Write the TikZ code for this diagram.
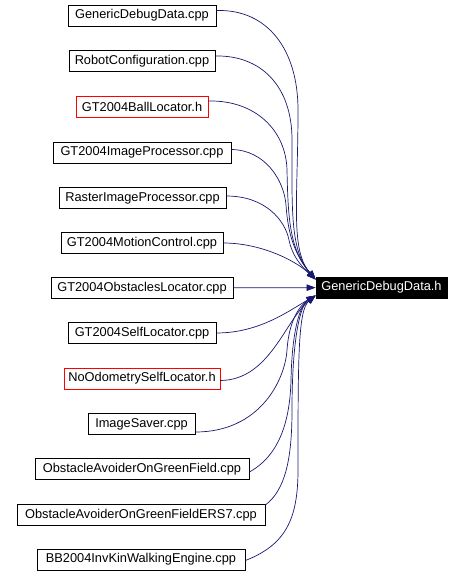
\documentclass[tikz,border=0pt]{standalone}
\usepackage{fontspec}
\setmainfont{Liberation Sans}
\usetikzlibrary{arrows.meta}
\definecolor{edgeblue}{HTML}{191970}
\begin{document}
\begin{tikzpicture}[x=1pt,y=-1pt,
  file/.style={draw=black, line width=0.8pt, inner sep=0pt, minimum height=21pt,
    font=\fontsize{12.8}{14}\selectfont, anchor=center},
  redfile/.style={file, draw=red},
  target/.style={file, draw=black, fill=black, text=white},
  edge/.style={draw=edgeblue, line width=0.7pt, -{Triangle[length=9pt,width=6.5pt]}}
]
\useasboundingbox (0,0) rectangle (463,577);
\node[file, minimum width=148pt] (n1) at (142,15.5) {GenericDebugData.cpp};
\node[file, minimum width=146pt] (n2) at (142,61) {RobotConfiguration.cpp};
\node[redfile, minimum width=132pt] (n3) at (142,107) {GT2004BallLocator.h};
\node[file, minimum width=178pt] (n4) at (142,152.5) {GT2004ImageProcessor.cpp};
\node[file, minimum width=167pt] (n5) at (142.5,198) {RasterImageProcessor.cpp};
\node[file, minimum width=162pt] (n6) at (142,243) {GT2004MotionControl.cpp};
\node[file, minimum width=182pt] (n7) at (142,288) {GT2004ObstaclesLocator.cpp};
\node[file, minimum width=148pt] (n8) at (142,333) {GT2004SelfLocator.cpp};
\node[redfile, minimum width=156pt] (n9) at (142,378.5) {NoOdometrySelfLocator.h};
\node[file, minimum width=107pt] (n10) at (141.5,424) {ImageSaver.cpp};
\node[file, minimum width=214pt] (n11) at (142,469) {ObstacleAvoiderOnGreenField.cpp};
\node[file, minimum width=248pt] (n12) at (141,515) {ObstacleAvoiderOnGreenFieldERS7.cpp};
\node[file, minimum width=208pt] (n13) at (141,559.5) {BB2004InvKinWalkingEngine.cpp};
\node[target, minimum width=131pt] (t) at (381.5,287.5) {GenericDebugData.h};

\coordinate (U) at ([yshift=8pt]t.west);
\coordinate (L) at ([yshift=-8pt]t.west);

\draw[edge] ([yshift=5pt]n1.east) .. controls (268,9) and (298,50) .. (298,110) .. controls (298,200) and (290,250) .. (U);
\draw[edge] ([yshift=5pt]n2.east) .. controls (260,55) and (292,85) .. (292,140) .. controls (292,210) and (290,250) .. (U);
\draw[edge] ([yshift=6pt]n3.east) .. controls (255,100) and (286,130) .. (287,170) .. controls (288,220) and (290,250) .. (U);
\draw[edge] ([yshift=3pt]n4.east) .. controls (265,150) and (284,180) .. (286,205) .. controls (288,235) and (295,255) .. (U);
\draw[edge] ([yshift=2pt]n5.east) .. controls (265,196) and (285,220) .. (289,240) .. controls (292,255) and (300,265) .. (U);
\draw[edge] (n6.east) .. controls (260,243) and (295,260) .. (U);
\draw[edge] (n7) -- (t);
\draw[edge] (n8.east) .. controls (260,333) and (290,310) .. (L);
\draw[edge] ([yshift=-2pt]n9.east) .. controls (270,380) and (285,320) .. (L);
\draw[edge] ([yshift=-8pt]n10.east) .. controls (260,432) and (285,380) .. (287,350) .. controls (289,320) and (300,305) .. (L);
\draw[edge] ([yshift=-3pt]n11.east) .. controls (280,455) and (290,420) .. (291,380) .. controls (292,330) and (300,305) .. (L);
\draw[edge] ([yshift=10pt]n12.east) .. controls (285,490) and (292,460) .. (292,410) .. controls (292,340) and (300,305) .. (L);
\draw[edge] ([yshift=-1pt]n13.east) .. controls (285,545) and (298,520) .. (298,470) .. controls (298,360) and (298,310) .. (L);
\end{tikzpicture}
\end{document}
